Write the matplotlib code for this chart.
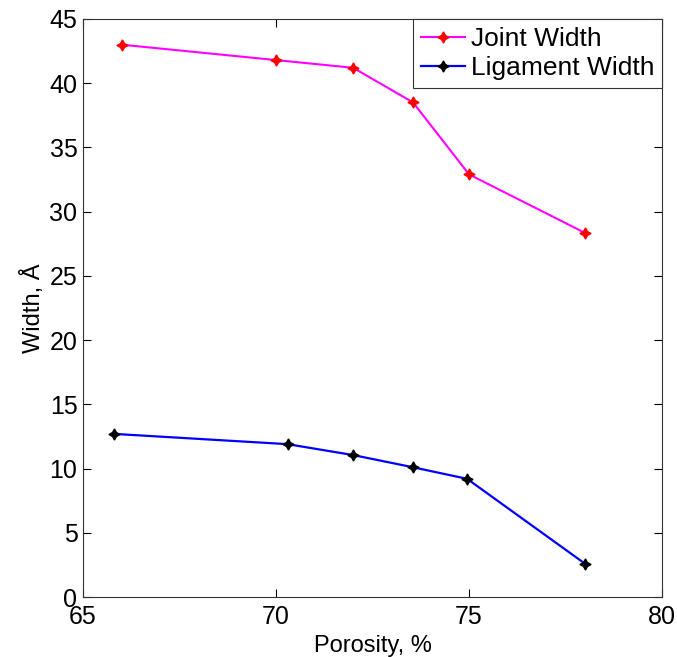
import matplotlib as mpl
mpl.use('Agg')
import matplotlib.pyplot as plt

plt.rcParams['font.family'] = ['Liberation Sans', 'DejaVu Sans']

porosity_joint = [66.0, 70.0, 72.0, 73.55, 75.0, 78.0]
joint_width = [43.0, 41.8, 41.2, 38.5, 32.9, 28.35]

porosity_lig = [65.8, 70.3, 72.0, 73.55, 74.95, 78.0]
ligament_width = [12.7, 11.9, 11.05, 10.1, 9.2, 2.6]

fig = plt.figure(figsize=(6.77, 6.57), dpi=100)
ax = fig.add_axes([0.1226, 0.0913, 0.8554, 0.8798])

star4 = (4, 1, 0)
ax.plot(porosity_joint, joint_width, color='#ff00ff', lw=1.5,
        marker=star4, ms=8, mfc='red', mec='red', label='Joint Width')
ax.plot(porosity_lig, ligament_width, color='#0000ff', lw=1.6,
        marker=star4, ms=8, mfc='black', mec='black', label='Ligament Width')

ax.set_xlim(65, 80)
ax.set_ylim(0, 45)
ax.set_xticks([65, 70, 75, 80])
ax.set_yticks(range(0, 46, 5))
ax.tick_params(direction='in', length=6, width=0.8, top=True, right=True,
               labelsize=18)
ax.tick_params(axis='x', pad=6)
ax.tick_params(axis='y', pad=4)
for s in ax.spines.values():
    s.set_linewidth(0.8)
    s.set_color('#333333')

ax.set_xlabel('Porosity, %', fontsize=17, labelpad=4)
ax.set_ylabel('Width, Å', fontsize=17, labelpad=3)

leg = ax.legend(loc='upper right', fontsize=19, fancybox=False,
                framealpha=1, edgecolor='#333333', borderaxespad=0,
                handlelength=1.7, handletextpad=0.2, borderpad=0.3,
                labelspacing=0.2)
leg.get_frame().set_linewidth(0.8)

fig.savefig('out.png', dpi=100)
